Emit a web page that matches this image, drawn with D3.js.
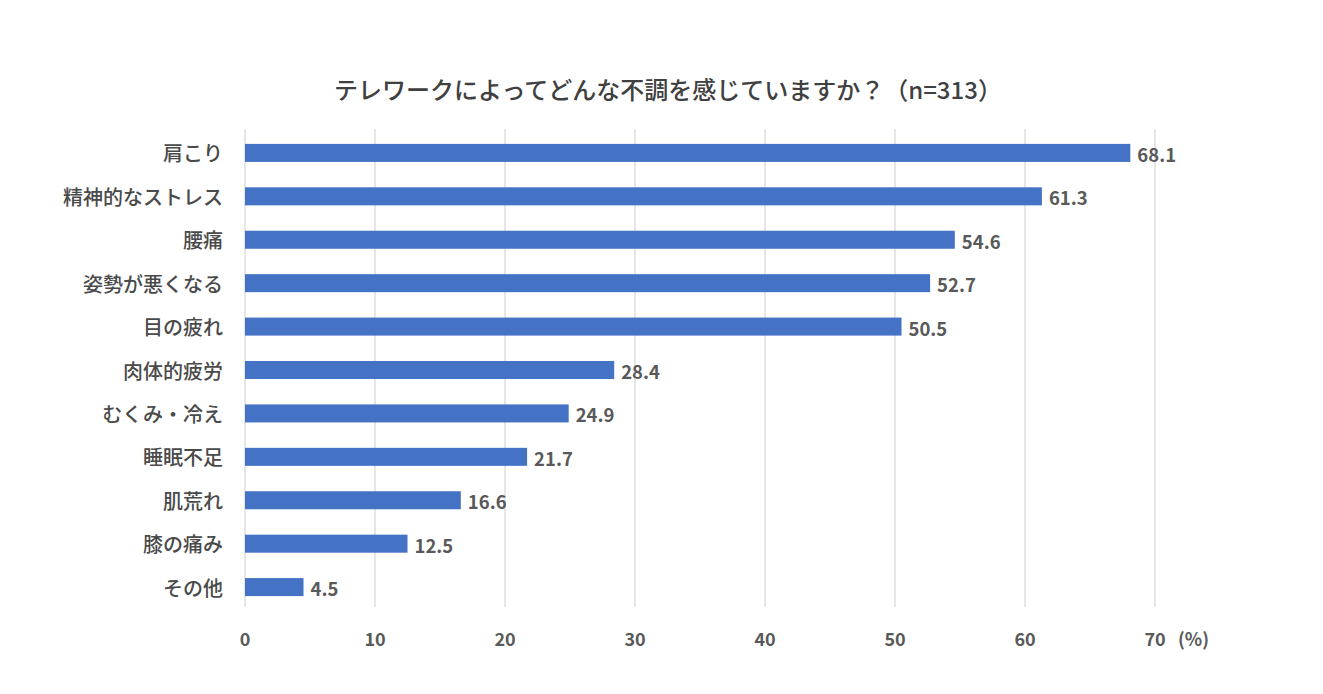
<!DOCTYPE html>
<html><head><meta charset="utf-8">
<script src="https://cdn.jsdelivr.net/npm/d3@7"></script>
<style>
body{margin:0;background:#fff;}
svg{display:block;font-family:"Noto Sans CJK JP","Noto Sans",sans-serif;}
</style></head>
<body>
<svg id="c" width="1323" height="694"></svg>
<script>
const title = "テレワークによってどんな不調を感じていますか？（n=313）";
const categories = ["肩こり","精神的なストレス","腰痛","姿勢が悪くなる","目の疲れ","肉体的疲労","むくみ・冷え","睡眠不足","肌荒れ","膝の痛み","その他"];
const values = [68.1,61.3,54.6,52.7,50.5,28.4,24.9,21.7,16.6,12.5,4.5];
const ticks = [0,10,20,30,40,50,60,70];
const unitLabel = "(%)";

const svg = d3.select("#c");
const x = d3.scaleLinear().domain([0,70]).range([245,1155]);
const y = d3.scaleBand().domain(categories).range([131.3,608.7]).paddingInner(0.585).paddingOuter(0.29);

svg.append("text").attr("x",668).attr("y",88).attr("text-anchor","middle")
  .attr("dominant-baseline","central").attr("font-size",24).attr("font-weight",500)
  .attr("fill","#404040").text(title);

svg.append("g").selectAll("line").data(ticks).join("line")
  .attr("x1",d=>x(d)).attr("x2",d=>x(d)).attr("y1",129).attr("y2",607)
  .attr("stroke","#d9d9d9").attr("stroke-width",1.3);

svg.append("g").selectAll("rect").data(values).join("rect")
  .attr("x",x(0)).attr("y",(d,i)=>y(categories[i]))
  .attr("width",d=>x(d)-x(0)).attr("height",y.bandwidth())
  .attr("fill","#4472C4");

svg.append("g").selectAll("text").data(values).join("text")
  .attr("x",d=>x(d)+7).attr("y",(d,i)=>y(categories[i])+y.bandwidth()/2+1)
  .attr("dominant-baseline","central").attr("font-size",18.5).attr("font-weight","bold")
  .attr("fill","#595959").text(d=>d.toFixed(1));

svg.append("g").selectAll("text").data(categories).join("text")
  .attr("x",223).attr("y",d=>y(d)+y.bandwidth()/2)
  .attr("text-anchor","end").attr("dominant-baseline","central")
  .attr("font-size",20).attr("font-weight",500).attr("fill","#4a4a4a").text(d=>d);

svg.append("g").selectAll("text").data(ticks).join("text")
  .attr("x",d=>x(d)).attr("y",638).attr("text-anchor","middle")
  .attr("dominant-baseline","central").attr("font-size",18).attr("font-weight","bold")
  .attr("fill","#595959").text(d=>d);

svg.append("text").attr("x",x(70)+23).attr("y",638).attr("dominant-baseline","central")
  .attr("font-size",18).attr("font-weight","bold").attr("fill","#595959").text(unitLabel);
</script>
</body></html>
